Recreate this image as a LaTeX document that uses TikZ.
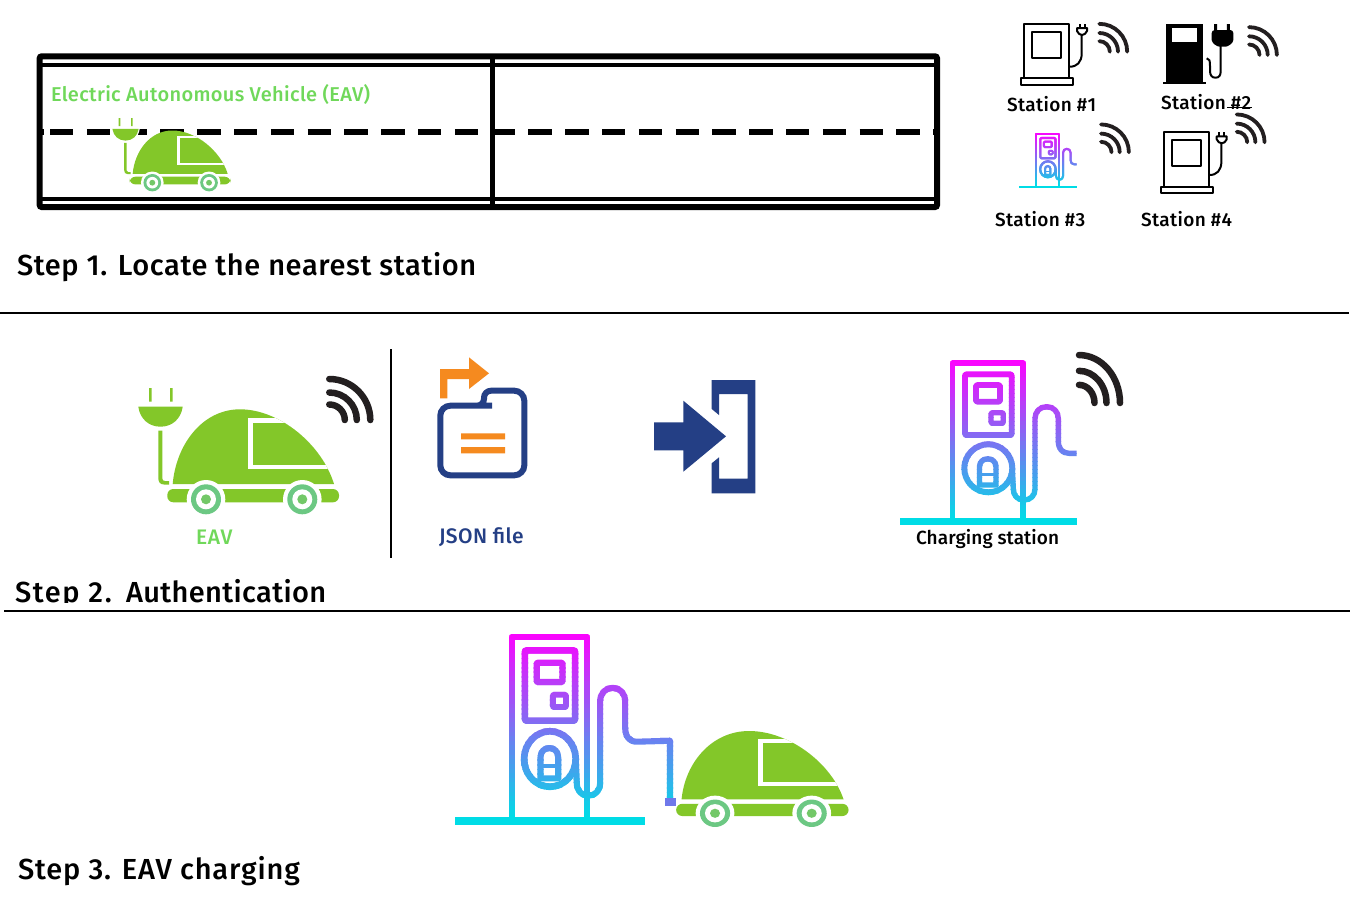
\documentclass[tikz,border=0pt]{standalone}
\usepackage{fontspec}
\setmainfont{Fira Sans}[UprightFont=* Medium]
\definecolor{cargreen}{HTML}{83C729}
\definecolor{wheelgreen}{HTML}{6CC883}
\definecolor{labelgreen}{HTML}{70D85A}
\definecolor{navy}{HTML}{243F85}
\definecolor{jsonorange}{HTML}{F58A1F}
\definecolor{wifidark}{HTML}{231F20}
\definecolor{stTop}{HTML}{FF00FF}
\definecolor{stBot}{HTML}{00DCE6}
\definecolor{plugblue}{HTML}{6F78EA}
\newcommand\hfont[2]{\fontsize{#1}{#1}\selectfont\addfontfeatures{LetterSpace=#2}}
\tikzset{
  lbl/.style={anchor=west,inner sep=0pt,outer sep=0pt},
  hstep/.style={lbl,anchor=base west},
  hsmall/.style={lbl,font=\hfont{19}{2}},
  road/.style={draw=black,line width=#1},
  rule/.style={draw=black,line width=2pt},
  blk/.style={draw=black,line width=2pt,line join=round},
}
% ---- car, drawn in the coordinates of the Step 2 car
\newcommand\carwheel[2]{%
  \fill[white] (#1,#2) circle[radius=19.3pt];
  \fill[wheelgreen] (#1,#2) circle[radius=15pt];
  \fill[white] (#1,#2) circle[radius=10pt];
  \fill[wheelgreen!70!cargreen] (#1,#2) circle[radius=5pt];
}
\newcommand\carbody{%
  \def\domepath{(172.7,484) .. controls (176,445) and (202,409.3) .. (240,409.3) .. controls (280,409.3) and (322,445) .. (334,484) -- cycle}
  \fill[cargreen] \domepath;
  \begin{scope}
    \clip \domepath;
    \fill[white] (248.3,418.3) rectangle (345,469.3);
    \fill[cargreen] (253.3,422.7) rectangle (345,465);
  \end{scope}
  \fill[cargreen,rounded corners=6pt] (167.3,489) rectangle (339,502.3);
  \carwheel{206}{499.3}
  \carwheel{302.3}{499.3}
}
\newcommand\carplug{%
  \fill[cargreen] (149,388) rectangle (151.6,401.7) (170,388) rectangle (172.6,401.7);
  \fill[cargreen] (138.3,406.7) -- (182.7,406.7) .. controls (181,419) and (172,426.7) .. (160.5,426.7) .. controls (149,426.7) and (140,419) .. cycle;
  \fill[cargreen] (158.3,430.7) -- (162.3,430.7) -- (162.3,478) .. controls (162.3,480) and (163,481) .. (165,481) -- (169,481) -- (169,484.5) -- (164,484.5) .. controls (160,484.5) and (158.3,482) .. (158.3,478) -- cycle;
}
% ---- wifi mark: #1,#2 centre, #3 scale options, #4 line width
\newcommand\wifimark[4]{%
  \begin{scope}[shift={(#1,#2)},#3]
    \foreach \r in {15.5,27.5,41}{
      \draw[wifidark,line width=#4,line cap=round]
        (0,-\r) .. controls ({.552*\r},-\r) and (\r,{-.552*\r}) .. (\r,0);
    }
  \end{scope}
}
% ---- gradient charging station: x0,y0,xscale,yscale,line factor,cable tail
\newcommand\gradstation[6]{%
  \begin{scope}[shift={(#1,#2)},xscale=#3,yscale=#4,line join=round]
    \foreach \i in {0,...,43}{
      \pgfmathsetmacro\pc{min(100,100*\i/40)}
      \colorlet{slc}{stBot!\pc!stTop}
      \begin{scope}
        \clip ({-10},{-6+4*\i}) rectangle (215,{-2+4*\i+0.6});
        \begin{scope}[draw=slc,fill=slc]
          \draw[line width=#5*5pt] (52.7,158.7) -- (52.7,0) -- (123,0) -- (123,158.7);
          \draw[line width=#5*6.5pt,line cap=butt] (0,158.7) -- (177,158.7);
          \draw[line width=#5*5.3pt,rounded corners=1pt] (65,11.3) rectangle (111.7,72);
          \draw[line width=#5*5.2pt,rounded corners=1pt] (76,22) rectangle (100,38.7);
          \draw[line width=#5*4.8pt,rounded corners=1pt] (91,49.7) rectangle (103.3,60.3);
          \draw[line width=#5*5.5pt] (88.3,105.3) circle[radius=24pt];
          \draw[line width=#5*5pt] (79.5,122) -- (79.5,104) .. controls (79.5,99) and (83,95.8) .. (87.8,95.8) .. controls (92.5,95.8) and (96,99) .. (96,104) -- (96,122) -- cycle;
          \draw[line width=#5*3.5pt] (80,111.5) -- (96,111.5);
          \draw[line width=#5*5pt] (112.3,105) -- (113.3,126) .. controls (113.3,133) and (118,137) .. (124,137) .. controls (130,137) and (135,133) .. (135,126) -- (135,55.5) .. controls (135,48.5) and (140,43.7) .. (146.7,43.7) .. controls (153.3,43.7) and (158.3,48.5) .. (158.3,55.5) -- (158.3,78) .. controls (158.3,85.5) and (162,90.3) .. (169,90.3) #6;
        \end{scope}
      \end{scope}
    }
  \end{scope}
}
% ---- outline station with plug: #1,#2 shift relative to Station #1
\newcommand\linestation[2]{%
  \begin{scope}[shift={(#1,#2)}]
    \begin{scope}
      \clip (1015,23) rectangle (1095,90);
      \draw[blk] (1024.3,78.3) -- (1024.3,23.5) -- (1069.3,23.5) -- (1069.3,78.3);
    \end{scope}
    \draw[blk] (1021,78.3) rectangle (1073.3,85);
    \draw[blk] (1032.3,31.7) rectangle (1061,57.7);
    \draw[blk] (1069.3,66.7) .. controls (1077,67) and (1081.7,62) .. (1081.7,53.3) -- (1081.7,34);
    \draw[blk] (1077,28) -- (1087,28) -- (1087,31) .. controls (1086,33.5) and (1084,35) .. (1082,35) .. controls (1080,35) and (1078,33.5) .. (1077,31) -- cycle;
    \draw[blk] (1079.5,24) -- (1079.5,28) (1084.5,24) -- (1084.5,28);
  \end{scope}
}
\begin{document}
\begin{tikzpicture}[x=1pt,y=-1pt]
\useasboundingbox (0,0) rectangle (1352,903);
\fill[white] (0,0) rectangle (1352,903);

% ===== Road =====
\draw[road=6pt,rounded corners=2pt] (39.7,56.3) rectangle (937,207);
\draw[road=4pt] (39.7,64.7) -- (937,64.7);
\draw[road=4.4pt] (39.7,198.8) -- (937,198.8);
\draw[road=5pt] (492.5,56.3) -- (492.5,207);
\draw[black,line width=6pt] (41.7,132) -- (44,132);
\draw[black,line width=6pt,dash pattern=on 23.3pt off 13.5pt] (50,132) -- (936,132);

% ===== Step 1 car =====
\begin{scope}[shift={(30.97,-106.9)},xscale=.589,yscale=.58]
  \fill[white] (136,404.5) -- (185,404.5) .. controls (183,421) and (173,429) .. (160.5,429) .. controls (148,429) and (138,421) .. cycle;
  \carplug
  \carbody
\end{scope}
\node[lbl,text=labelgreen,font=\hfont{20}{1.75}] (eavlong) at (51,94) {Electric Autonomous Vehicle (EAV)};

% ===== Stations =====
\linestation{0}{0}
\wifimark{1099.3}{51.7}{scale=.68}{3.8pt}
\node[hsmall] (st1) at (1007,104) {Station \#1};

% Station 2 (filled)
\fill[black] (1166,24) rectangle (1202.7,84);
\fill[black] (1162.7,81.7) rectangle (1206,84);
\fill[white] (1172,27.7) rectangle (1196.7,42.3);
\draw[blk] (1206.7,58.3) .. controls (1209.5,58.3) and (1210,61) .. (1210,66) -- (1210,71) .. controls (1210,75.5) and (1212,77.7) .. (1215.5,77.7) .. controls (1219,77.7) and (1220.7,75.5) .. (1220.7,71) -- (1220.7,44);
\fill[black,rounded corners=3pt] (1211.7,30) -- (1233.3,30) -- (1233.3,37) .. controls (1233.3,43) and (1228,46.7) .. (1222.5,46.7) .. controls (1217,46.7) and (1211.7,43) .. (1211.7,37) -- cycle;
\fill[black] (1214.2,24) rectangle (1217.2,30) (1226.8,24) rectangle (1229.8,30);
\wifimark{1249}{55}{scale=.68}{3.8pt}
\node[hsmall] (st2) at (1161,102) {Station \#2};
\draw[black,line width=.8pt] (1227,107.5) -- (1252,107.5);

% Station 3
\gradstation{1019.3}{134.3}{.324}{.332}{.4}{-- (176.7,90.3)}
\wifimark{1101}{152.3}{scale=.68}{3.8pt}
\node[hsmall] (st3) at (995,219.5) {Station \#3};

% Station 4
\linestation{139.7}{108.3}
\wifimark{1236.7}{142.3}{scale=.68}{3.8pt}
\node[hsmall] (st4) at (1141,219.5) {Station \#4};

\node[hstep,font=\hfont{29}{2.2}] (s1) at (17,275.5) {Step 1. Locate the nearest station};
\draw[rule] (0,313) -- (1349,313);

% ===== Step 2 =====
\carplug
\carbody
\wifimark{329.3}{420}{scale=1}{6.5pt}
\node[lbl,text=labelgreen,font=\hfont{21}{4}] (eav) at (196,537) {EAV};
\draw[rule] (391,349) -- (391,558);

% JSON file icon
\draw[navy,line width=6pt,rounded corners=10pt] (470,475.3) -- (440.3,475.3) -- (440.3,405.7) -- (482,405.7) [rounded corners=7pt] -- (484,405.7) -- (484,390.7) [rounded corners=10pt] -- (524.3,390.7) -- (524.3,475.3) -- cycle;
\fill[jsonorange] (461,433.3) rectangle (505,439.3) (461,447) rectangle (505,453.3);
\fill[jsonorange] (440,398.3) -- (440,369) -- (469,369) -- (469,357.3) -- (489,373.3) -- (469,389) -- (469,379) -- (447.3,379) -- (447.3,398.3) -- cycle;
\node[lbl,text=navy,font=\hfont{21}{2}] (json) at (439,537) {JSON file};

% Login arrow
\fill[navy] (654,422.3) -- (683.3,422.3) -- (683.3,400.7) -- (726,436.3) -- (683.3,471.7) -- (683.3,450.3) -- (654,450.3) -- cycle;
\fill[navy] (711.7,409) -- (711.7,380) -- (755.3,380) -- (755.3,493.3) -- (711.7,493.3) -- (711.7,463.3) -- (719,457.3) -- (719,478.7) -- (747.7,478.7) -- (747.7,394) -- (719,394) -- (719,415) -- cycle;

% Charging station
\gradstation{900}{363}{1}{1}{1.08}{-- (176.7,90.3)}
\wifimark{1079}{403}{xscale=1,yscale=1.17}{6.5pt}
\node[hsmall,font=\hfont{19}{.5}] (cs) at (916,539) {Charging station};

\node[hstep,font=\hfont{29}{5.5}] (s2a) at (15,602) {Step 2.};
\fill[white] (10,602.8) rectangle (120,609);
\node[hstep,font=\hfont{29}{1.3}] (s2b) at (126,602) {Authentication};
\draw[rule] (4,611) -- (1350,611);

% ===== Step 3 =====
\gradstation{455}{637.3}{1.075}{1.156}{1.22}{-- (200,89.5) -- (200,141)}
\fill[plugblue] (665,798.3) rectangle (676,805.7);
\begin{scope}[shift={(508.2,356.9)},xscale=1.004,yscale=.914]
  \carbody
\end{scope}
\node[hstep,font=\hfont{29}{3}] (s3) at (18,879.5) {Step 3. EAV charging};
\end{tikzpicture}
\end{document}
